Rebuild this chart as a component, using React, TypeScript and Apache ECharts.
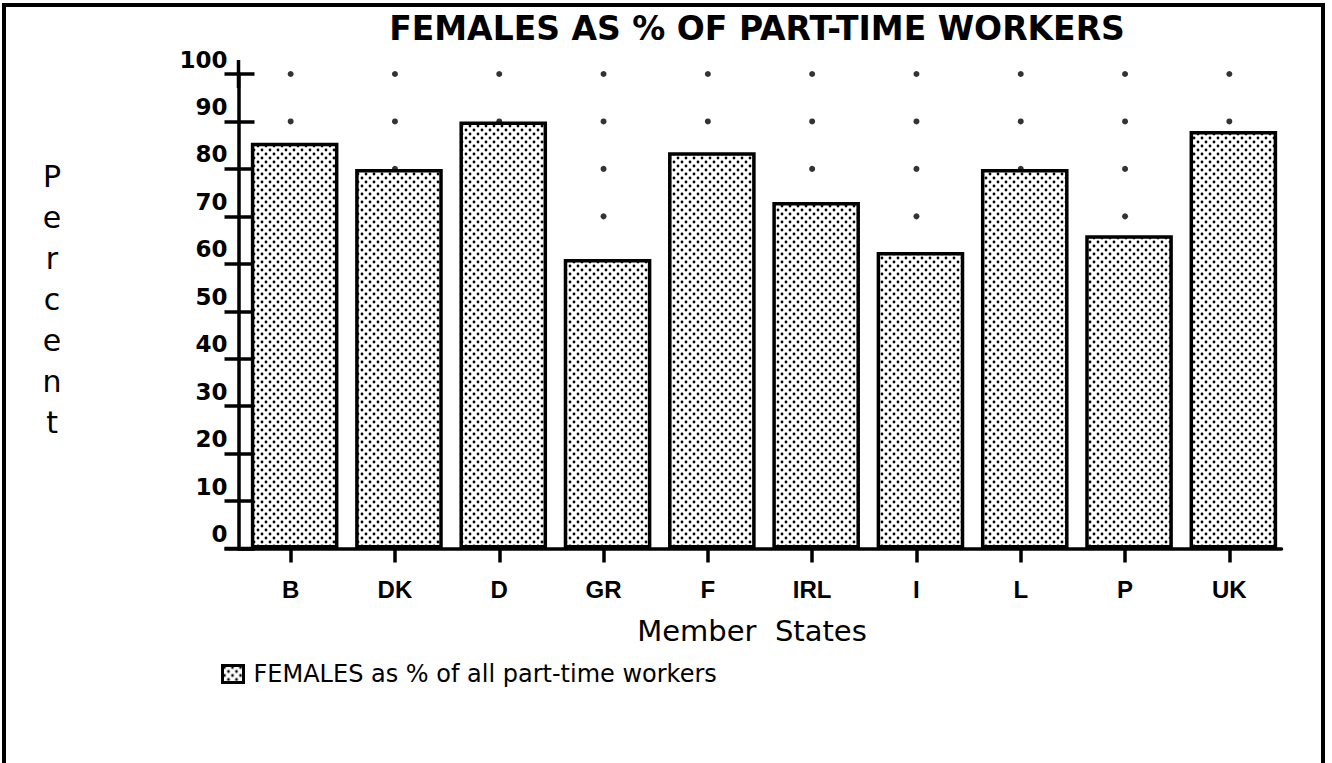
import React, { useEffect, useRef } from 'react';
import * as echarts from 'echarts';

// ---- data ----
const categories = ['B', 'DK', 'D', 'GR', 'F', 'IRL', 'I', 'L', 'P', 'UK'];
const femaleShare = [85.5, 80, 90, 61, 83.5, 73, 62.5, 80, 66, 88];
const yTickValues = [0, 10, 20, 30, 40, 50, 60, 70, 80, 90, 100];
const dotLevels = [10, 20, 30, 40, 50, 60, 70, 80, 90, 100];
const titleText = 'FEMALES AS % OF PART-TIME WORKERS';
const seriesName = 'FEMALES as % of all part-time workers';
const xAxisName = 'Member  States';
const yAxisNameLetters = ['P', 'e', 'r', 'c', 'e', 'n', 't'];

const SANS = '"DejaVu Sans", "Liberation Sans", Arial, sans-serif';
const LIB = '"Liberation Sans", Arial, sans-serif';

export default function App() {
  const ref = useRef<HTMLDivElement>(null);

  useEffect(() => {
    if (!ref.current) return;
    const chart = echarts.init(ref.current, undefined, { renderer: 'svg' });

    // dotted fill pattern
    const tile = document.createElement('canvas');
    tile.width = 8;
    tile.height = 8;
    const ctx = tile.getContext('2d')!;
    ctx.fillStyle = '#fff';
    ctx.fillRect(0, 0, 8, 8);
    ctx.fillStyle = '#000';
    [[2, 2], [6, 6]].forEach(([x, y]) => {
      ctx.beginPath();
      ctx.arc(x, y, 1.4, 0, Math.PI * 2);
      ctx.fill();
    });
    const pattern: any = { image: tile, repeat: 'repeat', imageWidth: 8, imageHeight: 8 };

    const dots: any[] = [];
    categories.forEach((c) => dotLevels.forEach((lv) => dots.push([c, lv])));

    const gridTop = 74;
    const gridBottom = 214.5;
    const lineW = 3.5;

    chart.setOption({
      animation: false,
      backgroundColor: '#fff',
      grid: [
        { left: 238.5, right: 50.5, top: gridTop, bottom: gridBottom },
        { left: 242.5, right: 46.5, top: gridTop, bottom: gridBottom },
      ],
      legend: {
        data: [seriesName],
        left: 216,
        top: 657,
        icon: 'rect',
        itemWidth: 21,
        itemHeight: 17,
        itemStyle: { borderColor: '#000', borderWidth: 3 },
        textStyle: { fontFamily: SANS, fontSize: 24, color: '#000', padding: [0, 0, 0, 5] },
        selectedMode: false,
      },
      xAxis: [
        {
          type: 'category',
          gridIndex: 0,
          data: categories,
          position: 'bottom',
          axisLine: {
            show: true,
            lineStyle: { color: '#000', width: lineW },
            symbol: ['rect', 'none'],
            symbolSize: [lineW, 28],
          },
          axisTick: { show: true, alignWithLabel: true, length: 14, lineStyle: { color: '#000', width: lineW } },
          axisLabel: { margin: 29, fontFamily: LIB, fontWeight: 'bold', fontSize: 24, color: '#000' },
          splitLine: { show: false },
          name: xAxisName,
          nameLocation: 'middle',
          nameGap: 68,
          nameTextStyle: { fontFamily: SANS, fontSize: 29, color: '#000', padding: [0, 16, 0, 0] },
        },
        {
          type: 'category',
          gridIndex: 0,
          data: categories,
          position: 'bottom',
          axisLine: { show: false },
          axisTick: { show: true, inside: true, alignWithLabel: true, length: 15, lineStyle: { color: '#000', width: lineW } },
          axisLabel: { show: false },
          splitLine: { show: false },
        },
        { type: 'category', gridIndex: 1, data: categories, show: false },
      ],
      yAxis: [
        {
          type: 'value',
          gridIndex: 0,
          position: 'left',
          min: 0,
          max: 100,
          interval: 10,
          axisLine: {
            show: true,
            lineStyle: { color: '#000', width: lineW },
            symbol: ['none', 'rect'],
            symbolSize: [lineW, 28],
          },
          axisTick: { show: true, length: 14, lineStyle: { color: '#000', width: lineW } },
          axisLabel: {
            margin: 11,
            fontFamily: SANS,
            fontWeight: 'bold',
            fontSize: 23,
            color: '#000',
            verticalAlign: 'bottom',
            lineHeight: 23,
            padding: [0, 0, 3, 0],
            formatter: (v: number) => (yTickValues.includes(v) ? String(v) : ''),
          },
          splitLine: { show: false },
        },
        {
          type: 'value',
          gridIndex: 0,
          position: 'left',
          offset: 0,
          min: 0,
          max: 100,
          interval: 10,
          axisLine: { show: false },
          axisTick: { show: true, inside: true, length: 16, lineStyle: { color: '#000', width: lineW } },
          axisLabel: { show: false },
          splitLine: { show: false },
        },
        { type: 'value', gridIndex: 1, min: 0, max: 100, show: false },
      ],
      graphic: [
        {
          type: 'polyline',
          shape: { points: [[4, 763], [4, 5], [1323, 5], [1323, 763]] },
          style: { stroke: '#000', lineWidth: 4, fill: 'none' },
          silent: true,
        },
        {
          type: 'text',
          x: 757,
          y: 28,
          style: {
            text: titleText,
            fontFamily: SANS,
            fontWeight: 'bold',
            fontSize: 33,
            fill: '#000',
            align: 'center',
            verticalAlign: 'middle',
          },
        },
        {
          type: 'text',
          x: 52,
          y: 299,
          style: {
            text: yAxisNameLetters.join('\n'),
            fontFamily: SANS,
            fontSize: 30,
            lineHeight: 41,
            fill: '#000',
            align: 'center',
            verticalAlign: 'middle',
          },
        },
      ],
      series: [
        {
          type: 'scatter',
          name: 'grid dots',
          xAxisIndex: 0,
          yAxisIndex: 0,
          data: dots,
          symbol: 'circle',
          symbolSize: 6,
          itemStyle: { color: '#000' },
          z: 1,
          silent: true,
        },
        {
          type: 'bar',
          name: seriesName,
          xAxisIndex: 2,
          yAxisIndex: 2,
          data: femaleShare,
          barCategoryGap: '16%',
          itemStyle: { color: pattern, borderColor: '#000', borderWidth: lineW },
          z: 2,
        },
      ],
    });

    return () => chart.dispose();
  }, []);

  return (
    <div
      ref={ref}
      style={{ position: 'fixed', left: 0, top: 0, width: 1332, height: 763 }}
    />
  );
}
